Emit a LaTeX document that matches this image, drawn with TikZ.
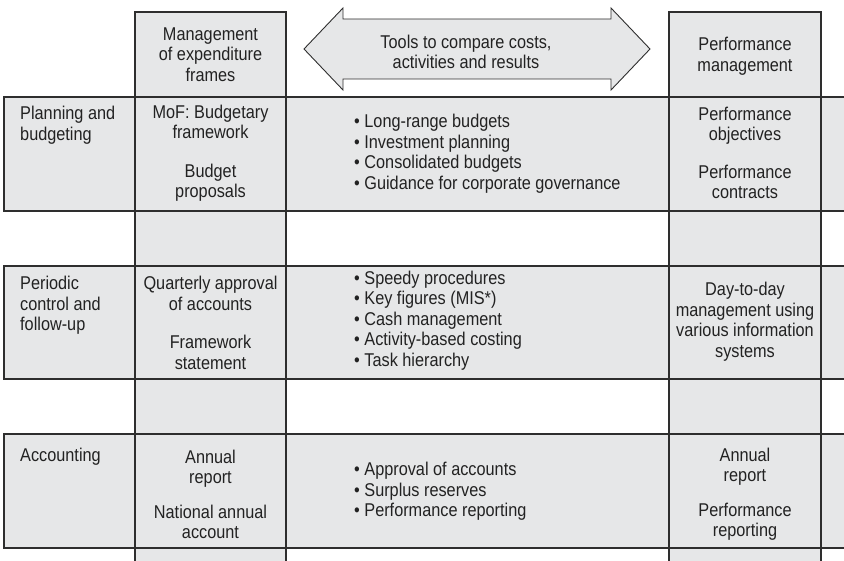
\documentclass[tikz,border=0pt]{standalone}
\usepackage{fontspec}
\setmainfont{Liberation Sans}[FakeStretch=0.88]
\definecolor{cellgrey}{HTML}{E6E7E8}
\definecolor{rulegrey}{HTML}{2E2E2E}
\definecolor{inkgrey}{HTML}{222222}
\tikzset{
  band/.style={fill=cellgrey},
  rule/.style={draw=rulegrey,line width=1.3pt},
  cell/.style={align=center,inner sep=0pt,text=inkgrey,font=\fontsize{18.5}{20.5}\selectfont},
  rowlabel/.style={cell,align=left,anchor=north west},
  bullets/.style={cell,align=left,anchor=west}
}
\begin{document}
\begin{tikzpicture}[x=1pt,y=-1pt]
    \clip (0,0) rectangle (844,561);
    % grey bands
    \fill[band] (135,12) rectangle (286,575);
    \fill[band] (669,12) rectangle (821,575);
    \foreach \top/\bot in {97/211,266/379,434/548}
        \fill[band] (4,\top) rectangle (850,\bot);
    \foreach \top/\bot in {97/211,266/379,434/548}
        \draw[rule] (850,\top) -- (4,\top) -- (4,\bot) -- (850,\bot);
    \foreach \l/\r in {135/286,669/821}
        \draw[rule] (\l,575) -- (\l,12) -- (\r,12) -- (\r,575);
    % double arrow
    \draw[draw=rulegrey,line width=0.9pt,fill=cellgrey]
        (304,49) -- (343,8) -- (343,19) -- (611,19) -- (611,8) -- (650,49)
        -- (611,90) -- (611,79) -- (343,79) -- (343,90) -- cycle;
    \node[cell] (tools) at (466,52) {Tools to compare costs,\\activities and results};
    % headers
    \node[cell] (mef) at (210.5,54.5) {Management\\of expenditure\\frames};
    \node[cell] (perf) at (745,56) {Performance\\management};
    % planning and budgeting
    \node[rowlabel] (plan) at (20,106) {Planning and\\budgeting};
    \node[cell] (mof) at (210.5,153) {MoF: Budgetary\\framework\\[18pt]Budget\\proposals};
    \node[bullets] (planlist) at (354,153.5) {• Long-range budgets\\• Investment planning\\• Consolidated budgets\\• Guidance for corporate governance};
    \node[cell] (objectives) at (745,153) {Performance\\objectives\\[17pt]Performance\\contracts};
    % periodic control
    \node[rowlabel] (control) at (20,276) {Periodic\\control and\\follow-up};
    \node[cell] (quarterly) at (210.5,323) {Quarterly approval\\of accounts\\[18pt]Framework\\statement};
    \node[bullets] (controllist) at (354,320.5) {• Speedy procedures\\• Key figures (MIS*)\\• Cash management\\• Activity-based costing\\• Task hierarchy};
    \node[cell] (daily) at (745,321.5) {Day-to-day\\management using\\various information\\systems};
    % accounting
    \node[rowlabel] (acc) at (20,448) {Accounting};
    \node[cell] (annual) at (210.5,494.5) {Annual\\report\\[14pt]National annual\\account};
    \node[bullets] (acclist) at (354,491.5) {• Approval of accounts\\• Surplus reserves\\• Performance reporting};
    \node[cell] (report) at (745,494) {Annual\\report\\[14pt]Performance\\reporting};
\end{tikzpicture}
\end{document}
